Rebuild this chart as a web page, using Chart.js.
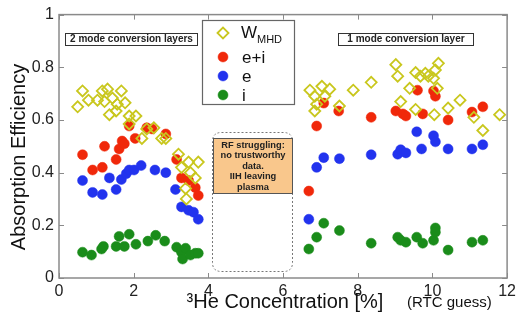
<!DOCTYPE html>
<html><head><meta charset="utf-8">
<script src="https://cdn.jsdelivr.net/npm/chart.js@4.4.1/dist/chart.umd.min.js"></script>
<style>html,body{margin:0;padding:0;background:#fff;overflow:hidden}canvas{display:block}</style>
</head><body>
<canvas id="c" width="520" height="322"></canvas>
<script>
// ---- data ----
const wX=[0.50,0.63,0.79,1.03,1.16,1.30,1.22,1.43,1.56,1.67,1.77,1.35,1.53,1.88,2.06,1.88,2.22,2.35,2.54,2.75,2.86,3.20,3.47,3.73,3.28,3.52,3.65,3.39,3.41,
          6.72,7.04,7.25,6.85,7.12,6.90,6.85,7.51,7.88,8.36,9.02,9.07,9.55,9.68,9.81,9.89,10.08,10.16,10.03,10.13,9.39,9.15,9.55,10.05,10.42,10.74,11.11,11.35,11.80];
const wY=[0.65,0.71,0.675,0.675,0.71,0.717,0.67,0.683,0.66,0.71,0.665,0.62,0.634,0.615,0.615,0.585,0.53,0.566,0.57,0.53,0.53,0.47,0.44,0.44,0.42,0.40,0.38,0.34,0.30,
          0.713,0.728,0.717,0.69,0.69,0.66,0.634,0.653,0.713,0.743,0.81,0.766,0.78,0.766,0.777,0.766,0.79,0.815,0.758,0.72,0.72,0.67,0.64,0.62,0.645,0.675,0.61,0.56,0.62];
const eiX=[0.63,0.90,1.16,1.22,1.53,1.61,1.69,1.75,2.04,1.88,2.35,2.49,2.86,3.15,3.28,3.47,3.65,3.73,
           6.69,6.90,7.09,7.49,8.36,9.02,9.21,9.29,9.60,9.74,10.03,10.08,10.42,11.06,11.35];
const eiY=[0.468,0.41,0.42,0.50,0.45,0.49,0.52,0.51,0.53,0.577,0.57,0.566,0.547,0.45,0.38,0.37,0.343,0.313,
           0.33,0.577,0.664,0.634,0.61,0.634,0.623,0.615,0.713,0.623,0.71,0.69,0.60,0.63,0.65];
const eX=[0.63,0.90,1.16,1.35,1.53,1.67,1.80,1.88,2.01,2.20,2.57,2.86,3.12,3.28,3.47,3.60,3.73,
          6.69,6.90,7.09,7.51,8.36,9.07,9.15,9.29,9.71,9.58,10.03,10.08,10.42,11.06,11.35];
const eY=[0.37,0.325,0.317,0.38,0.336,0.374,0.396,0.41,0.41,0.427,0.41,0.40,0.336,0.27,0.257,0.25,0.223,
          0.223,0.42,0.457,0.453,0.468,0.47,0.487,0.475,0.49,0.555,0.54,0.517,0.49,0.49,0.506];
const iX=[0.63,0.87,1.14,1.19,1.53,1.61,1.75,1.88,2.06,2.38,2.59,2.83,3.15,3.28,3.39,3.31,3.52,3.65,3.73,
          6.69,6.90,7.09,7.51,8.36,9.07,9.15,9.29,9.58,9.74,10.03,10.08,10.08,10.42,11.06,11.35];
const iY=[0.098,0.087,0.11,0.12,0.12,0.158,0.12,0.166,0.128,0.14,0.162,0.14,0.117,0.098,0.113,0.072,0.087,0.094,0.094,
          0.11,0.155,0.208,0.18,0.132,0.155,0.143,0.136,0.155,0.132,0.143,0.19,0.174,0.106,0.136,0.143];
const seriesLabels=['WMHD','e+i','e','i'];
const xTicks=[0,2,4,6,8,10,12];
const yTicks=[0,0.2,0.4,0.6,0.8,1];
const yTickLabels=['0','0.2','0.4','0.6','0.8','1'];
const leftNote='2 mode conversion layers';
const rightNote='1 mode conversion layer';
const gapNote=['RF struggling:','no trustworthy','data.','IIH leaving','plasma'];
const xTitle='\u00B3He Concentration [%]';
const xTitleNote='(RTC guess)';
const yTitle='Absorption Efficiency';

const pts=(xs,ys)=>xs.map((x,k)=>({x:x,y:ys[k]}));
const COL={w:'#c9c71e',ei:'#f0280a',e:'#2233ee',i:'#1a8c1a'};
const FONT='"Liberation Sans", Arial, Helvetica, sans-serif';

function roundRect(ctx,x,y,w,h,r){
  ctx.beginPath();
  ctx.moveTo(x+r,y);ctx.lineTo(x+w-r,y);ctx.quadraticCurveTo(x+w,y,x+w,y+r);
  ctx.lineTo(x+w,y+h-r);ctx.quadraticCurveTo(x+w,y+h,x+w-r,y+h);
  ctx.lineTo(x+r,y+h);ctx.quadraticCurveTo(x,y+h,x,y+h-r);
  ctx.lineTo(x,y+r);ctx.quadraticCurveTo(x,y,x+r,y);ctx.closePath();
}

const deco={
  id:'deco',
  afterDatasetsDraw(chart){
    const ctx=chart.ctx,a=chart.chartArea,xs=chart.scales.x,ys=chart.scales.y;
    ctx.save();
    // frame + inward ticks
    ctx.strokeStyle='#8a8a8a';ctx.lineWidth=1.5;
    ctx.strokeRect(a.left,a.top,a.right-a.left,a.bottom-a.top);
    ctx.lineWidth=1;ctx.beginPath();
    xTicks.forEach(v=>{const p=Math.round(xs.getPixelForValue(v))+0.5;
      ctx.moveTo(p,a.bottom);ctx.lineTo(p,a.bottom-5);ctx.moveTo(p,a.top);ctx.lineTo(p,a.top+5);});
    yTicks.forEach(v=>{const p=Math.round(ys.getPixelForValue(v))+0.5;
      ctx.moveTo(a.left,p);ctx.lineTo(a.left+5,p);ctx.moveTo(a.right,p);ctx.lineTo(a.right-5,p);});
    ctx.stroke();

    // note boxes
    ctx.font='bold 10px '+FONT;ctx.textAlign='center';ctx.textBaseline='middle';
    [[leftNote,65,33,132],[rightNote,338,33,135]].forEach(([t,x,y,w])=>{
      ctx.fillStyle='#fff';ctx.fillRect(x,y,w,12);
      ctx.strokeStyle='#333';ctx.lineWidth=1;ctx.strokeRect(x+0.5,y+0.5,w,12);
      ctx.fillStyle='#222';ctx.fillText(t,x+w/2+0.5,y+6.5);
    });

    // gap region
    ctx.setLineDash([2,2]);ctx.strokeStyle='#777';ctx.lineWidth=1;
    roundRect(ctx,212.5,132.5,80,139,9);ctx.stroke();ctx.setLineDash([]);
    ctx.fillStyle='#f9c78c';ctx.fillRect(213,138,79,55);
    ctx.strokeStyle='#555';ctx.strokeRect(213.5,138.5,79,55);
    ctx.fillStyle='#222';ctx.font='bold 9.3px '+FONT;
    gapNote.forEach((t,k)=>ctx.fillText(t,253,145+k*10.5));

    // legend
    ctx.fillStyle='#fff';ctx.fillRect(202,20,92,84);
    ctx.strokeStyle='#666';ctx.lineWidth=1.2;ctx.strokeRect(202.5,20.5,92,84);
    const ds=chart.data.datasets;
    const ly=[33,57,76,95];
    ds.forEach((d,k)=>{
      ctx.fillStyle=d.backgroundColor;ctx.strokeStyle=d.borderColor;ctx.lineWidth=d.borderWidth;
      Chart.helpers.drawPoint(ctx,{pointStyle:d.pointStyle,radius:d.pointRadius,rotation:0,borderWidth:d.borderWidth},223,ly[k]);
    });
    ctx.fillStyle='#111';ctx.textAlign='left';ctx.textBaseline='alphabetic';
    ctx.font='17px '+FONT;ctx.fillText('W',241,38);
    ctx.font='11px '+FONT;ctx.fillText('MHD',257,43);
    ctx.font='17px '+FONT;
    ctx.fillText('e+i',242,63);ctx.fillText('e',242,82);ctx.fillText('i',242,101);

    // axis titles
    ctx.fillStyle='#111';ctx.textAlign='center';ctx.textBaseline='middle';
    ctx.font='20px '+FONT;
    ctx.fillText(xTitle,285,302);
    ctx.font='15px '+FONT;ctx.textAlign='left';
    ctx.fillText(xTitleNote,407,303);
    ctx.save();ctx.translate(19,157);ctx.rotate(-Math.PI/2);
    ctx.textAlign='center';ctx.font='20px '+FONT;ctx.fillText(yTitle,0,0);ctx.restore();
    ctx.restore();
  }
};

new Chart(document.getElementById('c'),{
  type:'scatter',
  data:{datasets:[
    {label:seriesLabels[0],data:pts(wX,wY),pointStyle:'rectRot',pointRadius:5.5,borderWidth:1.8,borderColor:COL.w,backgroundColor:'rgba(0,0,0,0)'},
    {label:seriesLabels[1],data:pts(eiX,eiY),pointStyle:'circle',pointRadius:5,borderWidth:0.5,borderColor:COL.ei,backgroundColor:COL.ei},
    {label:seriesLabels[2],data:pts(eX,eY),pointStyle:'circle',pointRadius:5,borderWidth:0.5,borderColor:COL.e,backgroundColor:COL.e},
    {label:seriesLabels[3],data:pts(iX,iY),pointStyle:'circle',pointRadius:5,borderWidth:0.5,borderColor:COL.i,backgroundColor:COL.i}
  ]},
  options:{
    responsive:false,animation:false,devicePixelRatio:1,events:[],
    layout:{padding:{top:13,right:8,left:0,bottom:0}},
    plugins:{legend:{display:false},tooltip:{enabled:false}},
    scales:{
      x:{type:'linear',min:0,max:12,
         afterBuildTicks:s=>{s.ticks=xTicks.map(v=>({value:v}));},
         ticks:{font:{size:16,family:FONT},color:'#222',padding:4,maxRotation:0},
         grid:{display:false,drawTicks:false},border:{display:false},
         afterFit:s=>{s.height=44;}},
      y:{type:'linear',min:0,max:1,
         afterBuildTicks:s=>{s.ticks=yTicks.map(v=>({value:v}));},
         ticks:{font:{size:16,family:FONT},color:'#222',padding:5,
                callback:(v)=>{const k=yTicks.indexOf(v);return k>=0?yTickLabels[k]:'';}},
         grid:{display:false,drawTicks:false},border:{display:false},
         afterFit:s=>{s.width=59;}}
    }
  },
  plugins:[deco]
});
</script>
</body></html>
